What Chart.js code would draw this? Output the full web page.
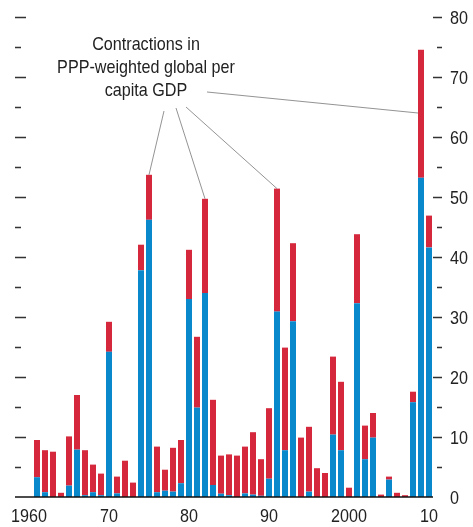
<!DOCTYPE html>
<html>
<head>
<meta charset="utf-8">
<script src="https://cdn.jsdelivr.net/npm/chart.js@4/dist/chart.umd.min.js"></script>
<style>
    html, body { margin: 0; padding: 0; background: #fff; }
    #wrap { width: 473px; height: 527px; position: relative; }
</style>
</head>
<body>
<div id="wrap"><canvas id="chart"></canvas></div>
<script>
// Years (1960 has no bar)
const years = [
    1960, 1961, 1962, 1963, 1964, 1965, 1966, 1967, 1968, 1969,
    1970, 1971, 1972, 1973, 1974, 1975, 1976, 1977, 1978, 1979,
    1980, 1981, 1982, 1983, 1984, 1985, 1986, 1987, 1988, 1989,
    1990, 1991, 1992, 1993, 1994, 1995, 1996, 1997, 1998, 1999,
    2000, 2001, 2002, 2003, 2004, 2005, 2006, 2007, 2008, 2009,
    2010
];

// Blue part (bottom of each bar)
const blueValues = [
    null, 3.3, 0.8, 0, 0, 1.9, 7.9, 0.3, 0.8, 0.3,
    24.2, 0.6, 0, 0, 37.8, 46.2, 0.8, 1.05, 0.9, 2.3,
    33.0, 14.9, 34.0, 2.0, 0.55, 0.3, 0, 0.6, 0.4, 0.2,
    3.05, 30.9, 7.8, 29.3, 0, 0.9, 0, 0, 10.4, 7.8,
    0, 32.3, 6.3, 9.9, 0, 2.9, 0, 0, 15.8, 53.2,
    41.6
];

// Bar totals (top of the red part)
const totalValues = [
    null, 9.5, 7.8, 7.55, 0.7, 10.1, 17.0, 7.8, 5.4, 3.9,
    29.2, 3.4, 6.05, 2.4, 42.05, 53.7, 8.4, 4.55, 8.2, 9.5,
    41.2, 26.7, 49.7, 16.2, 6.9, 7.1, 6.9, 8.4, 10.8, 6.3,
    14.8, 51.4, 24.9, 42.3, 9.9, 11.7, 4.8, 4.0, 23.4, 19.2,
    1.55, 43.8, 11.9, 14.0, 0.4, 3.4, 0.7, 0.3, 17.55, 74.55,
    46.9
];

const redValues = totalValues.map((t, i) => t == null ? null : +(t - blueValues[i]).toFixed(2));

const xTickLabels = { 1960: '1960', 1970: '70', 1980: '80', 1990: '90', 2000: '2000', 2010: '10' };
const yTicks = [0, 10, 20, 30, 40, 50, 60, 70, 80];

const noteLines = ['Contractions in', 'PPP-weighted global per', 'capita GDP'];
// leader lines: which bar each one points at
const noteTargets = [
    { year: 1975, value: 53.7, from: [164, 111] },
    { year: 1982, value: 49.7, from: [176, 108] },
    { year: 1991, value: 51.4, from: [186, 107] },
    { year: 2009, value: 64, from: [207, 92], side: 'left' }
];

const FONT = "'Liberation Sans', Arial, sans-serif";
const SQUEEZE = 0.85; // fake a condensed face
const BLUE = '#0a88cc';
const RED = '#d5283d';

function narrowText(ctx, text, x, y, align) {
    ctx.save();
    ctx.translate(x, y);
    ctx.scale(SQUEEZE, 1);
    ctx.textAlign = align;
    ctx.textBaseline = 'alphabetic';
    ctx.fillText(text, 0, 0);
    ctx.restore();
}

// ticks, labels, baseline and annotation
const decorPlugin = {
    id: 'decor',
    afterDatasetsDraw(chart) {
        const { ctx, chartArea, scales } = chart;
        const y = scales.y;
        const x = scales.x;
        ctx.save();

        // tick marks on both sides every 5
        ctx.strokeStyle = '#333';
        ctx.lineWidth = 1.5;
        for (let v = 5; v <= 80; v += 5) {
            const py = Math.round(y.getPixelForValue(v)) + 0.5;
            const major = v % 10 === 0;
            ctx.beginPath();
            ctx.moveTo(15, py);
            ctx.lineTo(major ? 26 : 21, py);
            ctx.moveTo(major ? chartArea.right : chartArea.right + 4, py);
            ctx.lineTo(chartArea.right + 9, py);
            ctx.stroke();
        }

        // baseline
        const by = y.getPixelForValue(0);
        ctx.strokeStyle = '#111';
        ctx.lineWidth = 1.5;
        ctx.beginPath();
        ctx.moveTo(15, by);
        ctx.lineTo(chartArea.right, by);
        ctx.stroke();

        ctx.fillStyle = '#222';
        ctx.font = '19px ' + FONT;

        // axis labels
        yTicks.forEach(v => narrowText(ctx, String(v), chartArea.right + 17, y.getPixelForValue(v) + 7, 'left'));
        years.forEach((yr, i) => {
            if (xTickLabels[yr]) narrowText(ctx, xTickLabels[yr], x.getPixelForValue(i), by + 25, 'center');
        });

        // annotation text
        noteLines.forEach((line, i) => narrowText(ctx, line, 146, 49.5 + i * 23, 'center'));

        // leader lines
        const meta = chart.getDatasetMeta(1);
        ctx.strokeStyle = '#777';
        ctx.lineWidth = 0.8;
        noteTargets.forEach(t => {
            const idx = years.indexOf(t.year);
            const bar = meta.data[idx];
            let ex = x.getPixelForValue(idx);
            if (t.side === 'left') ex = bar.x - bar.width / 2;
            const ey = y.getPixelForValue(t.value);
            ctx.beginPath();
            ctx.moveTo(t.from[0], t.from[1]);
            ctx.lineTo(ex, ey);
            ctx.stroke();
        });

        ctx.restore();
    }
};

new Chart(document.getElementById('chart'), {
    type: 'bar',
    data: {
        labels: years,
        datasets: [
            { label: 'blue', data: blueValues, backgroundColor: BLUE, borderWidth: 0 },
            { label: 'red', data: redValues, backgroundColor: RED, borderWidth: 0 }
        ]
    },
    options: {
        responsive: true,
        maintainAspectRatio: false,
        animation: false,
        layout: { padding: { left: 25, top: 17, right: 0, bottom: 0 } },
        plugins: { legend: { display: false }, tooltip: { enabled: false } },
        datasets: { bar: { barPercentage: 0.75, categoryPercentage: 1 } },
        scales: {
            x: {
                stacked: true,
                grid: { display: false },
                border: { display: false },
                ticks: { display: false },
                afterFit: s => { s.height = 30; }
            },
            y: {
                stacked: true,
                position: 'right',
                min: 0,
                max: 80,
                afterBuildTicks: s => { s.ticks = yTicks.map(v => ({ value: v })); },
                grid: { display: false },
                border: { display: false },
                ticks: { display: false },
                afterFit: s => { s.width = 40; }
            }
        }
    },
    plugins: [decorPlugin]
});
</script>
</body>
</html>
